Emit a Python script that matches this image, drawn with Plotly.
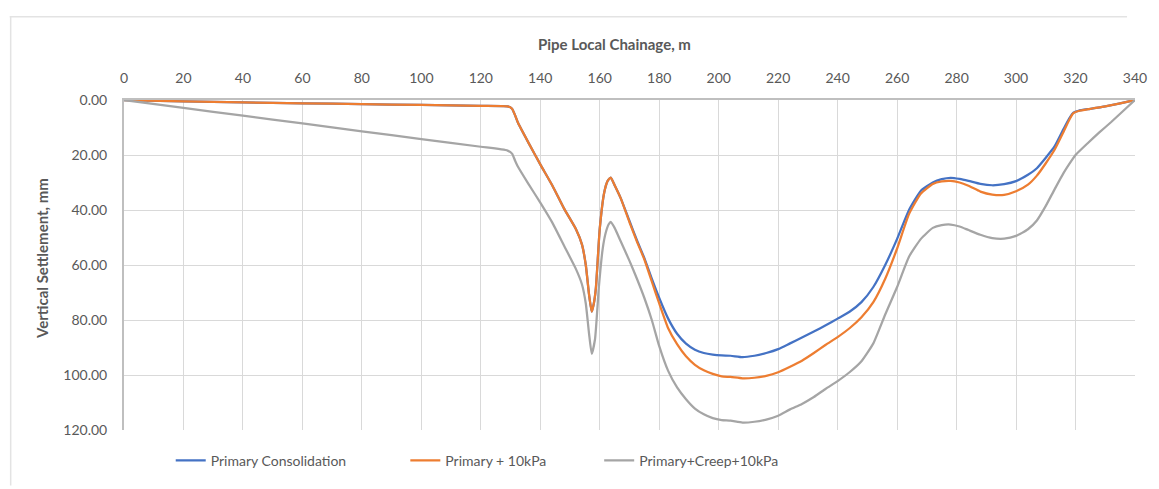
import plotly.graph_objects as go

# ---------------- data ----------------
x_primary = [0, 20, 40, 60, 80, 100, 120, 129, 130.5, 131.5, 132.5, 136, 140, 144, 148, 152,
             154, 155.3, 156.4, 157.3, 158.0, 158.7, 160, 161.5, 162.7, 163.7, 165, 167, 170,
             172.5, 175, 177.5, 180, 183, 186, 189, 192, 195, 198, 201, 204, 208, 212, 216,
             220, 224, 228, 232, 236, 240, 244, 248, 252, 256, 260, 264, 268, 272, 275, 278,
             281, 284, 288, 292, 296, 300, 304, 307, 310, 313, 316, 318, 319.3, 321, 325, 330,
             335, 340]
y_primary = [0, 0.5, 0.9, 1.2, 1.5, 1.8, 2.1, 2.3, 3.2, 5.5, 8.3, 15.5, 23.4, 31, 39.5, 47,
             52.5, 60, 70.8, 77, 74, 68.3, 46.8, 33.6, 29.3, 28.2, 31, 35.6, 44,
             51, 57.5, 65, 72, 79.5, 85, 88.6, 90.8, 92, 92.6, 92.9, 93, 93.5, 93, 92,
             90.6, 88.5, 86.4, 84.2, 81.9, 79.5, 77, 73.5, 68, 60, 50.5, 40, 33, 30, 28.8, 28.3,
             28.7, 29.4, 30.5, 31, 30.6, 29.5, 27.2, 24.8, 21, 16.8, 10.5, 6.5, 4.6, 3.9, 3.2, 2.3,
             1.2, 0]

x_p10 = x_primary
y_p10 = [0, 0.5, 0.9, 1.2, 1.5, 1.8, 2.1, 2.3, 3.2, 5.5, 8.3, 15.5, 23.4, 31, 39.5, 47,
         52.5, 60, 70.8, 77, 74, 68.3, 46.8, 33.6, 29.3, 28.2, 31, 35.6, 44.5,
         51.5, 58, 66, 74, 83, 88.8, 93.2, 96.3, 98.3, 99.6, 100.5, 100.7, 101.2, 101, 100.3,
         99, 97, 94.8, 92, 89, 86.2, 83, 79, 73.5, 65, 54, 41.5, 34, 30.5, 29.6, 29.4,
         30, 31.2, 33.3, 34.4, 34.5, 33.2, 30.8, 27.5, 23, 18, 11.5, 7, 4.8, 4, 3.2, 2.3,
         1.2, 0]

x_creep = [0, 20, 40, 60, 80, 100, 120, 129, 130.5, 131.5, 132.5, 136, 140, 144, 148, 152,
           154, 155.3, 156.4, 157.3, 158.4, 159.7, 161, 162, 163, 163.7, 165, 167, 170,
           172.5, 175, 177.5, 180, 183, 186, 189, 192, 195, 198, 201, 204, 208, 212, 216,
           220, 224, 228, 232, 236, 240, 244, 248, 252, 256, 260, 264, 268, 272, 275, 278,
           281, 284, 288, 292, 296, 300, 304, 307, 310, 313, 316, 319, 320, 324, 328, 332,
           336, 340]
y_creep = [0, 2.9, 5.7, 8.5, 11.4, 14.2, 17, 18.4, 19.5, 22, 24.3, 30.5, 37.3, 44.5, 53, 61.5,
           67, 74, 85, 92.3, 87, 68, 54, 48.3, 45.2, 44.3, 46.5, 51.3, 58.5,
           65, 72, 80, 89.5, 98.5, 104.5, 108.8, 112.2, 114.3, 115.7, 116.4, 116.6, 117.3, 117, 116.2,
           114.8, 112.5, 110.5, 108, 105, 102.2, 99, 95, 88.5, 78, 68, 57, 50.5, 46.5, 45.5, 45.3,
           46, 47.3, 49, 50.2, 50.4, 49.4, 47, 43.8, 38.5, 32.4, 26.5, 21.5, 20, 15.8, 11.8, 8,
           4, 0]

series_names = ["Primary Consolidation", "Primary + 10kPa", "Primary+Creep+10kPa"]
series_colors = ["#4472C4", "#ED7D31", "#A5A5A5"]

x_ticks = list(range(0, 341, 20))
y_ticks = list(range(0, 121, 20))
y_tick_labels = [f"{v:.2f}" for v in y_ticks]

x_title = "Pipe Local Chainage, m"
y_title = "Vertical Settlement, mm"

# ---------------- figure ----------------
W, H = 1159, 489
L, R, T, B = 124, 18, 100, 56
pw, ph = W - L - R, H - T - B

def px_to_paper_x(px):
    return (px - L) / pw

def py_to_paper_y(py):
    return (H - B - py) / ph

FONT = "Lato"
TXT = "#595959"

fig = go.Figure()
xs = [x_primary, x_p10, x_creep]
ys = [y_primary, y_p10, y_creep]
legends = ["legend", "legend2", "legend3"]
for i in range(3):
    fig.add_trace(go.Scatter(
        x=xs[i], y=ys[i], mode="lines", name=series_names[i],
        line=dict(color=series_colors[i], width=2.25, shape="spline", smoothing=0.5),
        legend=legends[i],
    ))

leg_common = dict(orientation="h", yanchor="middle", xanchor="left",
                  font=dict(family=FONT, size=14, color=TXT),
                  bgcolor="rgba(0,0,0,0)", borderwidth=0)
leg_y = py_to_paper_y(464)

fig.update_layout(
    width=W, height=H, autosize=False,
    margin=dict(l=L, r=R, t=T, b=B),
    paper_bgcolor="white", plot_bgcolor="white",
    font=dict(family=FONT, color=TXT),
    showlegend=True,
    legend=dict(**leg_common, x=px_to_paper_x(171), y=leg_y),
    legend2=dict(**leg_common, x=px_to_paper_x(407), y=leg_y),
    legend3=dict(**leg_common, x=px_to_paper_x(602), y=leg_y),
    xaxis=dict(
        side="top", range=[0, 340], tickvals=x_ticks, ticktext=[str(v) for v in x_ticks],
        showgrid=True, gridcolor="#D9D9D9", gridwidth=1,
        showline=True, linecolor="#BFBFBF", linewidth=1.5, mirror=False,
        ticks="", ticklabelstandoff=10, zeroline=False,
        tickfont=dict(family=FONT, size=14, color=TXT),
    ),
    yaxis=dict(
        range=[120, 0], tickvals=y_ticks, ticktext=y_tick_labels,
        showgrid=True, gridcolor="#D9D9D9", gridwidth=1,
        showline=True, linecolor="#BFBFBF", linewidth=2,
        ticks="", ticklabelstandoff=12, zeroline=False,
        tickfont=dict(family=FONT, size=14, color=TXT),
    ),
)

fig.add_annotation(text=f"<b>{x_title}</b>", xref="paper", yref="paper",
                   x=px_to_paper_x(617), y=py_to_paper_y(43), showarrow=False,
                   xanchor="center", yanchor="middle",
                   font=dict(family=FONT, size=15, color=TXT))
fig.add_annotation(text=f"<b>{y_title}</b>", xref="paper", yref="paper",
                   x=px_to_paper_x(41), y=py_to_paper_y(260), showarrow=False,
                   xanchor="center", yanchor="middle", textangle=-90,
                   font=dict(family=FONT, size=15, color=TXT))

# chart-area border (top and left edges visible in the reference)
fig.add_shape(type="line", xref="paper", yref="paper",
              x0=px_to_paper_x(9), x1=px_to_paper_x(1133),
              y0=py_to_paper_y(16), y1=py_to_paper_y(16),
              line=dict(color="#E3E3E3", width=1.5), layer="below")
fig.add_shape(type="line", xref="paper", yref="paper",
              x0=px_to_paper_x(10), x1=px_to_paper_x(10),
              y0=py_to_paper_y(16), y1=py_to_paper_y(489),
              line=dict(color="#E3E3E3", width=1.5), layer="below")

fig.write_html("out.html")
